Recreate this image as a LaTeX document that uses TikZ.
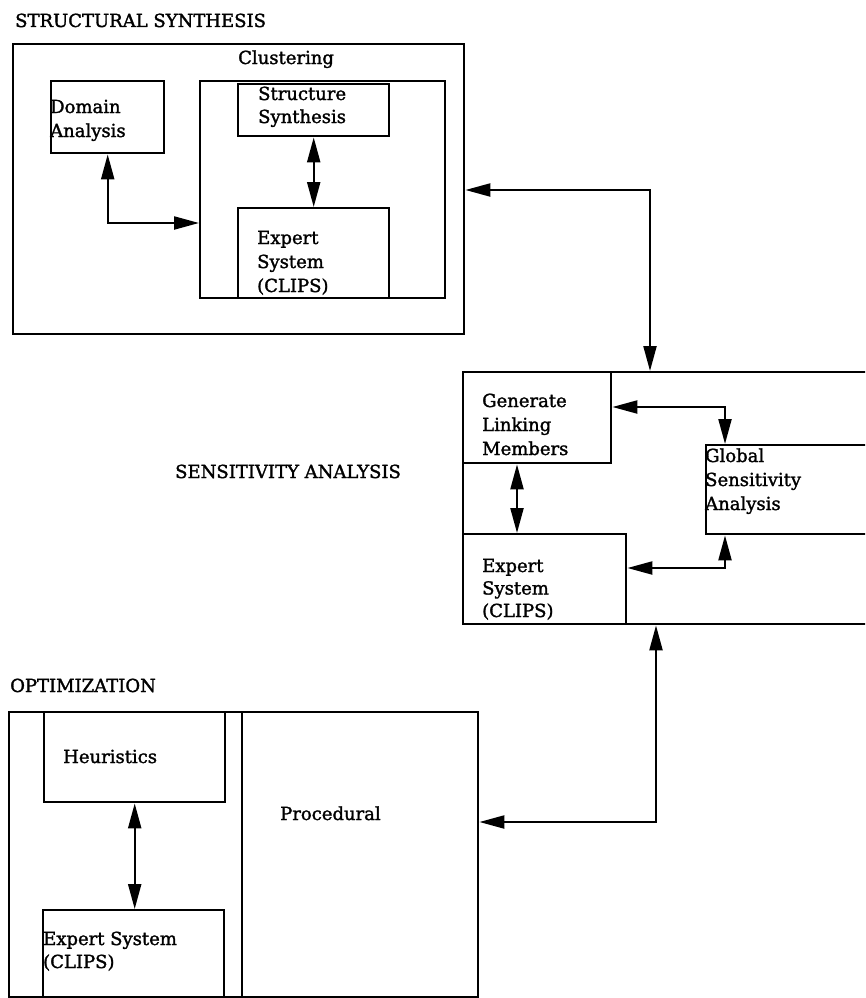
\documentclass[tikz,border=0pt]{standalone}
\usepackage{fontspec}
\setmainfont{DejaVu Serif}[FakeBold=1.6]
\usetikzlibrary{arrows.meta}
\begin{document}
\begin{tikzpicture}[x=1pt, y=-1pt,
  box/.style={draw, line width=2.4pt, inner sep=0pt, anchor=north west},
  txt/.style={inner sep=0pt, anchor=base west, align=left,
    font=\fontsize{18}{24}\selectfont},
  link/.style={line width=2.2pt,
    {Triangle[length=25pt,width=13pt]}-{Triangle[length=25pt,width=13pt]}}]
\useasboundingbox (0,0) rectangle (865,998);
\clip (0,0) rectangle (865,998);

% ---------- Structural synthesis ----------
% (multi-line labels are anchored at the baseline of their last line)
\node[txt] (tss) at (15,27) {STRUCTURAL SYNTHESIS};
\node[box, minimum width=451pt, minimum height=290pt] (ssout) at (12,43) {};
\node[txt] (tclus) at (238,64) {Clustering};
\node[box, minimum width=245pt, minimum height=217pt] (clus) at (199,80) {};
\node[box, minimum width=113pt, minimum height=72pt] (dom) at (50,80) {};
\node[txt] (tdom) at (50,137) {Domain\\Analysis};
\node[box, minimum width=151pt, minimum height=52pt] (struct) at (237,83) {};
\node[txt, font=\fontsize{18}{23}\selectfont] (tstruct) at (258,123) {Structure\\Synthesis};
\node[box, minimum width=151pt, minimum height=90pt] (exa) at (237,207) {};
\node[txt] (texa) at (257,292) {Expert\\System\\(CLIPS)};

\draw[link] (dom.south) |- (clus.west |- 0,223);
\draw[link] (struct.south) -- (exa.north);

% ---------- Sensitivity analysis ----------
\node[txt] (tsens) at (175,478) {SENSITIVITY ANALYSIS};
\node[box, minimum width=440pt, minimum height=252pt] (sens) at (462,371) {};
\node[box, minimum width=148pt, minimum height=91pt] (gen) at (462,371) {};
\node[txt] (tgen) at (482,455) {Generate\\Linking\\Members};
\node[box, minimum width=200pt, minimum height=89pt] (glob) at (705,444) {};
\node[txt] (tglob) at (705,510) {Global\\Sensitivity\\Analysis};
\node[box, minimum width=163pt, minimum height=90pt] (exb) at (462,533) {};
\node[txt, font=\fontsize{18}{22.5}\selectfont] (texb) at (482,617) {Expert\\System\\(CLIPS)};

\draw[link] (ssout.east |- 0,190) -| (650,0 |- sens.north);
\draw[link] (517,0 |- gen.south) -- (517,0 |- exb.north);
\draw[link] (gen.east |- 0,407) -| (725,0 |- glob.north);
\draw[link] (exb.east |- 0,568) -| (725,0 |- glob.south);

% ---------- Optimization ----------
\node[txt] (topt) at (10,692) {OPTIMIZATION};
\node[box, minimum width=233pt, minimum height=285pt] (optl) at (8,711) {};
\node[box, minimum width=236pt, minimum height=285pt] (proc) at (241,711) {};
\node[txt] (tproc) at (280,820) {Procedural};
\node[box, minimum width=181pt, minimum height=90pt] (heur) at (43,711) {};
\node[txt] (theur) at (63,763) {Heuristics};
\node[box, minimum width=181pt, minimum height=88pt] (exc) at (42,909) {};
\node[txt, font=\fontsize{18}{23}\selectfont] (texc) at (43,968) {Expert System\\(CLIPS)};

\draw[link] (heur.south) -- (heur.south |- exc.north);
\draw[link] (656,0 |- sens.south) |- (proc.east |- 0,822);
\end{tikzpicture}
\end{document}
